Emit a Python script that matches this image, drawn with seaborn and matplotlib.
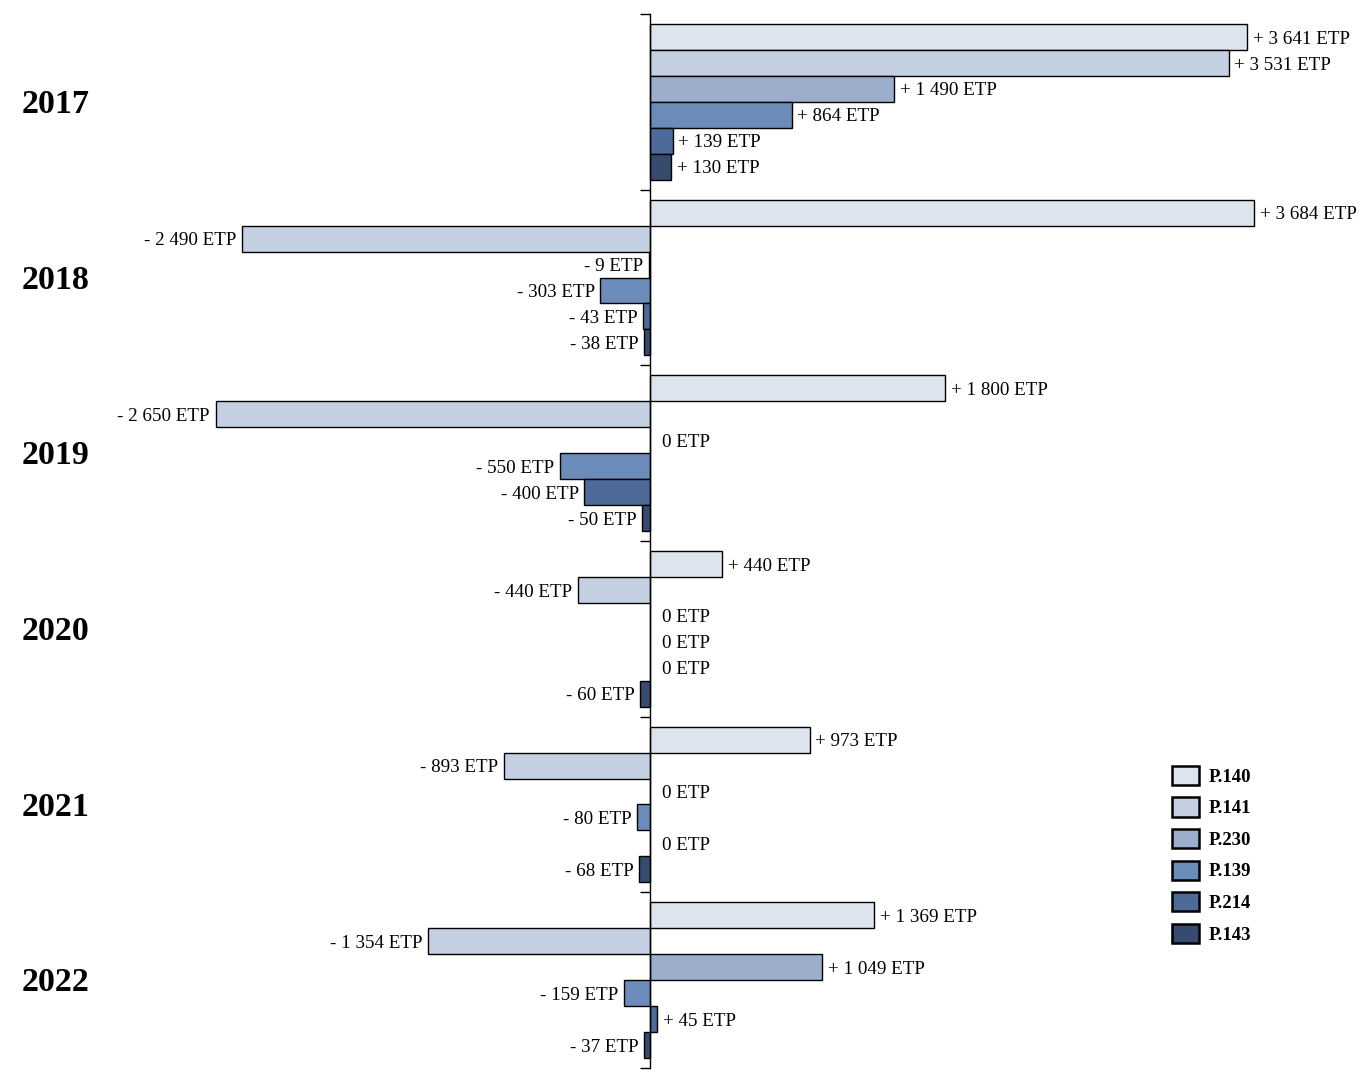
import seaborn as sns
import pandas as pd
import matplotlib.pyplot as plt
from matplotlib.patches import Patch
from matplotlib.transforms import blended_transform_factory, ScaledTranslation

YEARS = ["2017", "2018", "2019", "2020", "2021", "2022"]
PROGRAMS = ["P.140", "P.141", "P.230", "P.139", "P.214", "P.143"]
P140 = [3641, 3684, 1800, 440, 973, 1369]
P141 = [3531, -2490, -2650, -440, -893, -1354]
P230 = [1490, -9, 0, 0, 0, 1049]
P139 = [864, -303, -550, 0, -80, -159]
P214 = [139, -43, -400, 0, 0, 45]
P143 = [130, -38, -50, -60, -68, -37]
COLORS = ["#dde4ee", "#c5cfe2", "#9caecb", "#6b8bb8", "#4d6a99", "#374b6e"]


def fmt(v):
    if v == 0:
        return "0 ETP"
    sign = "+ " if v > 0 else "- "
    return sign + f"{abs(v):,}".replace(",", " ") + " ETP"


if __name__ == "__main__":
    series = [P140, P141, P230, P139, P214, P143]
    rows = []
    for prog, vals in zip(PROGRAMS, series):
        for year, v in zip(YEARS, vals):
            rows.append({"Year": year, "Program": prog, "ETP": v})
    df = pd.DataFrame(rows)

    sns.set_style("white")
    plt.rcParams["font.family"] = ["Liberation Serif", "DejaVu Serif"]
    plt.rcParams["text.color"] = "black"

    fig = plt.figure(figsize=(13.66, 10.83), dpi=100)
    ax = fig.add_axes([100 / 1366, 1 - 1068 / 1083, 1266 / 1366, 1054 / 1083])

    sns.barplot(data=df, y="Year", x="ETP", hue="Program", order=YEARS,
                hue_order=PROGRAMS, palette=COLORS, orient="h", width=0.886,
                edgecolor="black", linewidth=1, saturation=1, legend=False, ax=ax)

    scale = 604 / 3684  # px per unit
    ax.set_xlim(-550 / scale, 716 / scale)
    ax.set_ylim(5.5, -0.5)

    # labels next to each bar
    for container, vals in zip(ax.containers, series):
        for patch, v in zip(container.patches, vals):
            yc = patch.get_y() + patch.get_height() / 2
            if v > 0:
                ax.annotate(fmt(v), (v, yc), xytext=(4, -1.5), textcoords="offset points",
                            ha="left", va="center", fontsize=13.7, color="black")
            elif v < 0:
                ax.annotate(fmt(v), (v, yc), xytext=(-4, -1.5), textcoords="offset points",
                            ha="right", va="center", fontsize=13.7, color="black")
            else:
                ax.annotate(fmt(v), (0, yc), xytext=(9, -1.5), textcoords="offset points",
                            ha="left", va="center", fontsize=13.7, color="black")

    for s in ["top", "right", "bottom"]:
        ax.spines[s].set_visible(False)
    ax.spines["left"].set_position(("data", 0))
    ax.spines["left"].set_color("black")
    ax.spines["left"].set_linewidth(1)
    ax.set_yticks([i - 0.5 for i in range(len(YEARS) + 1)])
    ax.set_yticklabels([])
    ax.tick_params(axis="y", direction="out", length=7, width=1, color="black", left=True)
    ax.set_xticks([])
    ax.set_xlabel("")
    ax.set_ylabel("")

    trans = blended_transform_factory(fig.transFigure, ax.transData)
    trans = trans + ScaledTranslation(0, -2 / 72, fig.dpi_scale_trans)
    for i, year in enumerate(YEARS):
        fig.text(22 / 1366, i, year, transform=trans, ha="left", va="center",
                 fontsize=24.5, fontweight="bold", color="black")

    handles = [Patch(facecolor=c, edgecolor="black", linewidth=1.8) for c in COLORS]
    leg = fig.legend(handles, PROGRAMS, loc="upper left",
                     bbox_to_anchor=(1155 / 1366, 1 - 749 / 1083), frameon=False,
                     prop={"weight": "bold", "size": 13.5}, handlelength=1.45,
                     handleheight=1.2, labelspacing=0.62, handletextpad=0.5)
    for t in leg.get_texts():
        t.set_color("black")

    plt.savefig("out.png", dpi=100)
